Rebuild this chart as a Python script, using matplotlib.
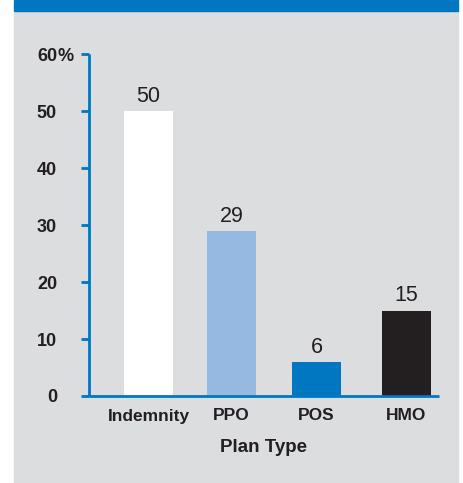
import matplotlib
matplotlib.use("Agg")
import matplotlib.pyplot as plt
from matplotlib.patches import Rectangle

plt.rcParams['font.family'] = ['Liberation Sans', 'DejaVu Sans']

# plan share by type (%)
plans = ["Indemnity", "PPO", "POS", "HMO"]
shares = [50, 29, 6, 15]
bar_colors = ["#FFFFFF", "#96B9E2", "#0077C0", "#231F20"]
yticks = [0, 10, 20, 30, 40, 50, 60]

BLUE = "#0077C0"
PANEL = "#DCDDDF"
INK = "#231F20"

W, H = 464, 483
fig = plt.figure(figsize=(W / 100, H / 100), dpi=100)
fig.patch.set_facecolor("white")

# grey panel with blue header band
fig.add_artist(Rectangle((14 / W, 0), 444 / W, (H - 11) / H,
                         transform=fig.transFigure, color=PANEL, zorder=0))
fig.add_artist(Rectangle((14 / W, (H - 11) / H), 444 / W, 11 / H,
                         transform=fig.transFigure, color=BLUE, zorder=0))

ax = fig.add_axes([89 / W, 87 / H, 350 / W, 341.7 / H])
ax.set_facecolor("none")

# bar centres in pixel units along the 350px axis
xpos = [59.5, 142.5, 227.5, 317.5]
ax.bar(xpos, shares, width=49, color=bar_colors, zorder=2)
for x, v in zip(xpos, shares):
    ax.annotate(str(v), (x, v), xytext=(0, 3), textcoords="offset points",
                ha="center", va="bottom", fontsize=15.5, color=INK)

ax.set_xlim(0, 350)
ax.set_ylim(0, 60)

for side in ("top", "right"):
    ax.spines[side].set_visible(False)
for side in ("left", "bottom"):
    ax.spines[side].set_color(BLUE)
    ax.spines[side].set_linewidth(2)
    ax.spines[side].set_capstyle("butt")

ax.set_yticks(yticks)
ax.set_yticklabels([str(t) for t in yticks], fontsize=13, fontweight="bold",
                   color=INK)
ax.tick_params(axis="y", length=6, width=2, color=BLUE, pad=17)

# percent sign trailing the top tick label
ax.annotate("%", (0, 60), xycoords=("axes fraction", "data"),
            xytext=(-23, 0), textcoords="offset points",
            ha="left", va="center_baseline", fontsize=13, fontweight="bold",
            color=INK, annotation_clip=False)

ax.set_xticks(xpos)
ax.set_xticklabels(plans, fontsize=12.5, fontweight="bold", color=INK)
ax.tick_params(axis="x", length=0, pad=9)
ax.set_xlabel("Plan Type", fontsize=13.5, fontweight="bold", color=INK,
              labelpad=11)

fig.savefig("out.png", dpi=100)
